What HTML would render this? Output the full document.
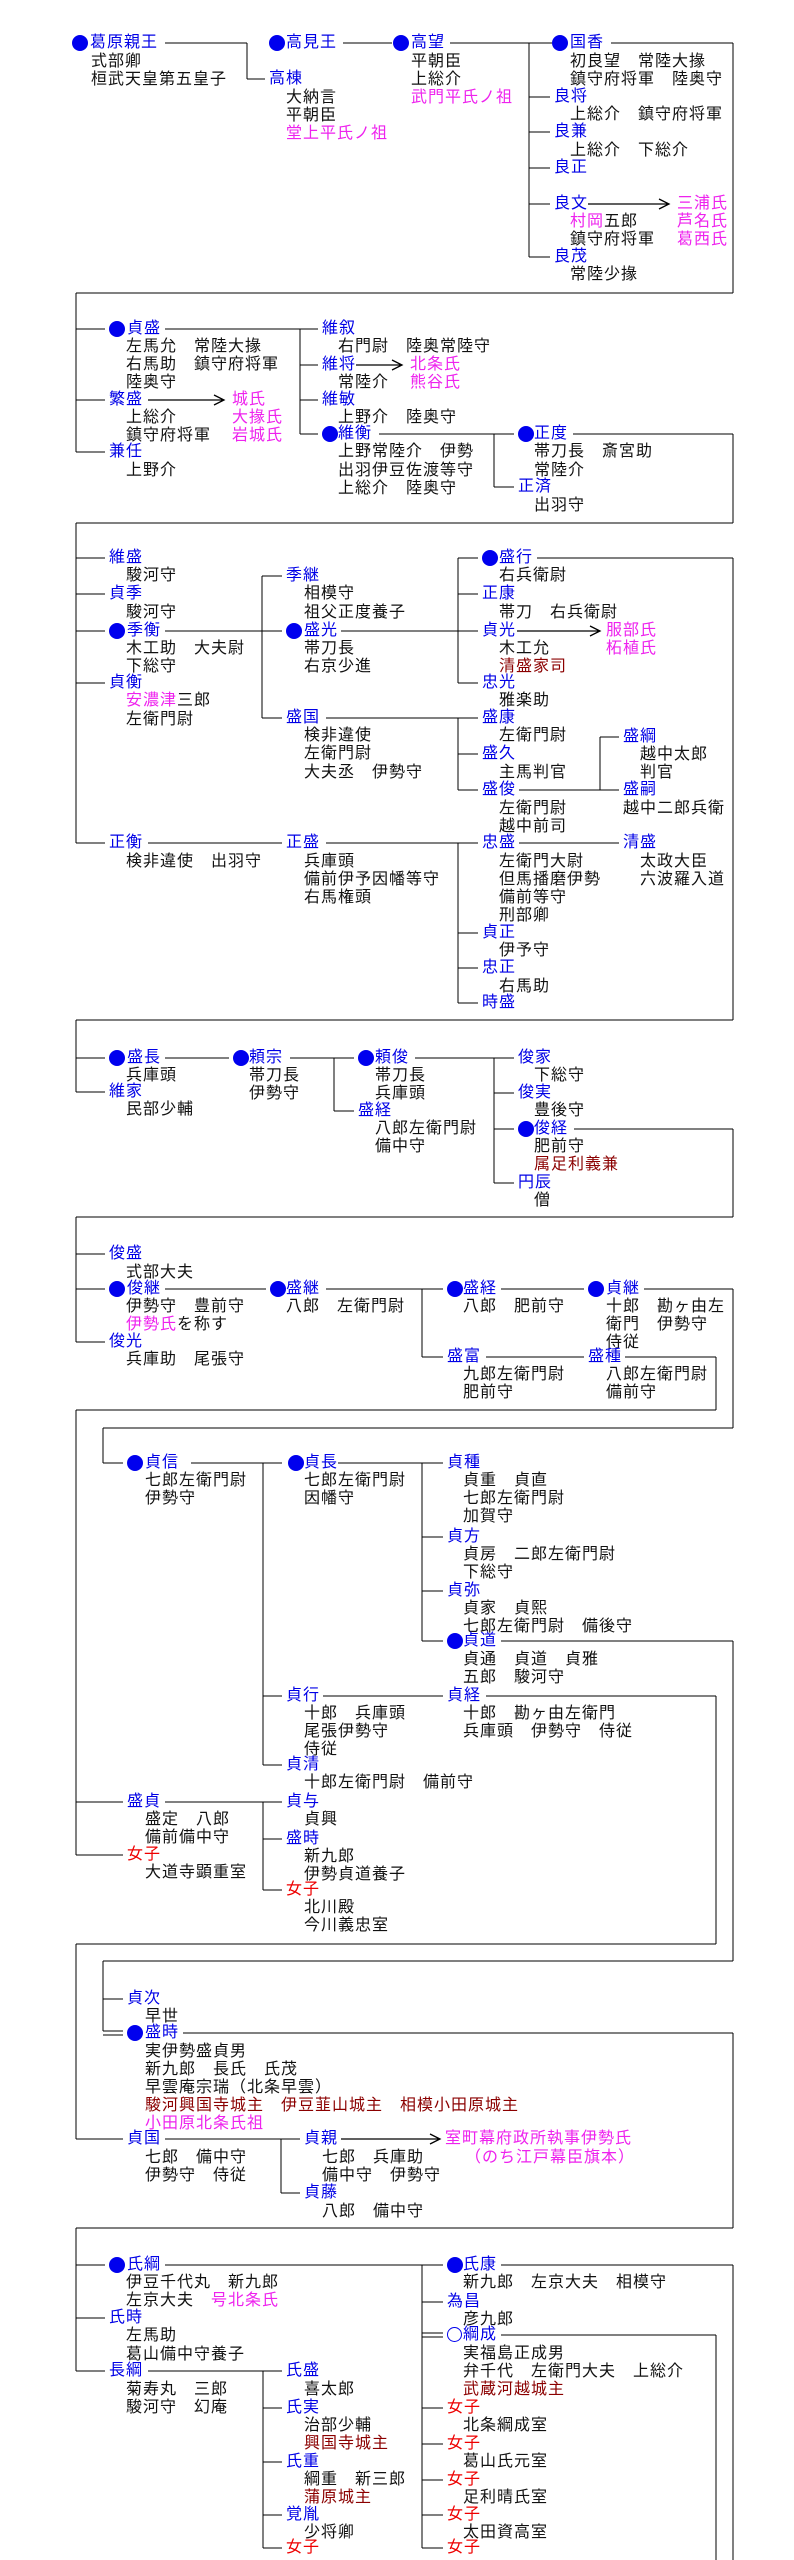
<!DOCTYPE html>
<html><head><meta charset="utf-8">
<style>
html,body{margin:0;padding:0;background:#fff;}
body{width:794px;height:2560px;position:relative;overflow:hidden;}
p{position:absolute;margin:0;font:16px/18px "Liberation Sans","Noto Sans CJK JP",sans-serif;letter-spacing:1px;white-space:nowrap;color:#111;}
.b{color:#0000e6}.m{color:#ee22ee}.r{color:#ee0000}.d{color:#8b0000}
i.dot{position:absolute;width:16px;height:16px;border-radius:50%;background:#0000ee;}
i.o{position:absolute;width:13px;height:13px;border-radius:50%;border:1.5px solid #0000ee;}
svg{position:absolute;left:0;top:0;}
</style></head><body>
<svg width="794" height="2560" shape-rendering="crispEdges" stroke="#000" stroke-width="1.3" fill="none">
<path d="M165 43H247M247 43V79M247 79H265
M343 43H392
M450 43H552M529 43V257M529 97H550M529 132H550M529 168H550M529 204H550M529 257H550
M611 43H733M733 43V293M76 293H733M76 293V452
M76 329H105M76 400H105M76 452H105
M165 329H318M300 329V434M300 365H318M300 400H318M300 434H318
M379 434H514M494 434V487M494 487H514
M573 434H733M733 434V523M76 523H733M76 523V843
M76 558H105M76 594H105M76 631H105M76 683H105M76 843H105
M165 631H262M262 576V718M262 576H282M262 631H282M262 718H282
M341 631H478M458 558V683M458 558H478M458 594H478M458 683H478
M537 558H733
M326 718H478M458 718V790M458 754H478M458 790H478
M519 790H619M600 737V790M600 737H619
M148 843H282M326 843H478M458 843V1003M458 933H478M458 968H478M458 1003H478
M519 843H619
M733 558V1020M76 1020H733M76 1020V1092M76 1058H105M76 1092H105
M165 1058H229M290 1058H354M334 1058V1111M334 1111H354
M415 1058H514M494 1058V1183M494 1093H514M494 1129H514M494 1183H514
M574 1129H733M733 1129V1217M76 1217H733M76 1217V1342M76 1254H105M76 1289H105M76 1342H105
M165 1289H266M326 1289H443M422 1289V1357M422 1357H443
M501 1289H584M644 1289H733M733 1289V1428M103 1428H733M103 1428V1463M103 1463H123
M486 1357H584M625 1357H716M716 1357V1410M76 1410H716M76 1410V1855M76 1802H123M76 1855H123
M191 1463H282M263 1463V1765M263 1696H282M263 1765H282
M338 1463H443M422 1463V1641M422 1537H443M422 1591H443M422 1641H443
M501 1641H733M733 1641V1961M103 1961H733M103 1961V2031M103 1999H123M103 2031H123M103 2035H123
M323 1696H443M486 1696H716M716 1696V1944M76 1944H716M76 1944V2139M76 2139H123
M165 1802H282M263 1802V1890M263 1839H282M263 1890H282
M183 2033H733M733 2033V2228M76 2228H733M76 2228V2371M76 2265H105M76 2318H105M76 2371H105
M165 2139H300M281 2139V2193M281 2193H300
M165 2265H443M422 2265V2548M422 2302H443M422 2333H443M422 2337H443M422 2408H443M422 2444H443M422 2480H443M422 2515H443M422 2548H443
M148 2371H282M263 2371V2548M263 2408H282M263 2462H282M263 2515H282M263 2548H282
M501 2265H733M733 2265V2560M501 2335H716M716 2335V2560"/>
<path shape-rendering="auto" d="M588 204H669M659 199L669 204L659 209
M148 400H224M214 395L224 400L214 405
M356 365H402M392 360L402 365L392 370
M517 631H600M590 626L600 631L590 636
M341 2139H440M430 2134L440 2139L430 2144"/>
</svg>

<!-- dots -->
<i class="dot" style="left:72px;top:35px"></i>
<i class="dot" style="left:269px;top:35px"></i>
<i class="dot" style="left:393px;top:35px"></i>
<i class="dot" style="left:552px;top:35px"></i>
<i class="dot" style="left:109px;top:321px"></i>
<i class="dot" style="left:322px;top:426px"></i>
<i class="dot" style="left:518px;top:426px"></i>
<i class="dot" style="left:109px;top:623px"></i>
<i class="dot" style="left:286px;top:623px"></i>
<i class="dot" style="left:482px;top:550px"></i>
<i class="dot" style="left:109px;top:1050px"></i>
<i class="dot" style="left:233px;top:1050px"></i>
<i class="dot" style="left:358px;top:1050px"></i>
<i class="dot" style="left:518px;top:1121px"></i>
<i class="dot" style="left:109px;top:1281px"></i>
<i class="dot" style="left:270px;top:1281px"></i>
<i class="dot" style="left:447px;top:1281px"></i>
<i class="dot" style="left:588px;top:1281px"></i>
<i class="dot" style="left:127px;top:1455px"></i>
<i class="dot" style="left:288px;top:1455px"></i>
<i class="dot" style="left:447px;top:1633px"></i>
<i class="dot" style="left:127px;top:2025px"></i>
<i class="dot" style="left:109px;top:2257px"></i>
<i class="dot" style="left:447px;top:2257px"></i>
<i class="o" style="left:447px;top:2327px"></i>

<!-- section 1 -->
<p class="b" style="left:90px;top:34px">葛原親王</p>
<p style="left:91px;top:53px">式部卿</p>
<p style="left:91px;top:71px">桓武天皇第五皇子</p>
<p class="b" style="left:286px;top:34px">高見王</p>
<p class="b" style="left:269px;top:70px">高棟</p>
<p style="left:286px;top:89px">大納言</p>
<p style="left:286px;top:107px">平朝臣</p>
<p class="m" style="left:286px;top:125px">堂上平氏ノ祖</p>
<p class="b" style="left:411px;top:34px">高望</p>
<p style="left:411px;top:53px">平朝臣</p>
<p style="left:411px;top:71px">上総介</p>
<p class="m" style="left:411px;top:89px">武門平氏ノ祖</p>
<p class="b" style="left:570px;top:34px">国香</p>
<p style="left:570px;top:53px">初良望　常陸大掾</p>
<p style="left:570px;top:71px">鎮守府将軍　陸奥守</p>
<p class="b" style="left:554px;top:88px">良将</p>
<p style="left:570px;top:106px">上総介　鎮守府将軍</p>
<p class="b" style="left:554px;top:123px">良兼</p>
<p style="left:570px;top:142px">上総介　下総介</p>
<p class="b" style="left:554px;top:159px">良正</p>
<p class="b" style="left:554px;top:195px">良文</p>
<p style="left:570px;top:213px"><span class="m">村岡</span>五郎</p>
<p style="left:570px;top:231px">鎮守府将軍</p>
<p class="m" style="left:677px;top:195px">三浦氏</p>
<p class="m" style="left:677px;top:213px">芦名氏</p>
<p class="m" style="left:677px;top:231px">葛西氏</p>
<p class="b" style="left:554px;top:248px">良茂</p>
<p style="left:570px;top:266px">常陸少掾</p>

<!-- section 2 -->
<p class="b" style="left:127px;top:320px">貞盛</p>
<p style="left:126px;top:338px">左馬允　常陸大掾</p>
<p style="left:126px;top:356px">右馬助　鎮守府将軍</p>
<p style="left:126px;top:374px">陸奥守</p>
<p class="b" style="left:109px;top:391px">繁盛</p>
<p style="left:126px;top:409px">上総介</p>
<p style="left:126px;top:427px">鎮守府将軍</p>
<p class="m" style="left:232px;top:391px">城氏</p>
<p class="m" style="left:232px;top:409px">大掾氏</p>
<p class="m" style="left:232px;top:427px">岩城氏</p>
<p class="b" style="left:109px;top:443px">兼任</p>
<p style="left:126px;top:462px">上野介</p>
<p class="b" style="left:322px;top:320px">維叙</p>
<p style="left:338px;top:338px">右門尉　陸奥常陸守</p>
<p class="b" style="left:322px;top:356px">維将</p>
<p style="left:338px;top:374px">常陸介</p>
<p class="m" style="left:410px;top:356px">北条氏</p>
<p class="m" style="left:410px;top:374px">熊谷氏</p>
<p class="b" style="left:322px;top:391px">維敏</p>
<p style="left:338px;top:409px">上野介　陸奥守</p>
<p class="b" style="left:338px;top:425px">維衡</p>
<p style="left:338px;top:443px">上野常陸介　伊勢</p>
<p style="left:338px;top:462px">出羽伊豆佐渡等守</p>
<p style="left:338px;top:480px">上総介　陸奥守</p>
<p class="b" style="left:534px;top:425px">正度</p>
<p style="left:534px;top:443px">帯刀長　斎宮助</p>
<p style="left:534px;top:462px">常陸介</p>
<p class="b" style="left:518px;top:478px">正済</p>
<p style="left:534px;top:497px">出羽守</p>

<!-- section 3 -->
<p class="b" style="left:109px;top:549px">維盛</p>
<p style="left:126px;top:567px">駿河守</p>
<p class="b" style="left:109px;top:585px">貞季</p>
<p style="left:126px;top:604px">駿河守</p>
<p class="b" style="left:127px;top:622px">季衡</p>
<p style="left:126px;top:640px">木工助　大夫尉</p>
<p style="left:126px;top:658px">下総守</p>
<p class="b" style="left:109px;top:674px">貞衡</p>
<p style="left:126px;top:692px"><span class="m">安濃津</span>三郎</p>
<p style="left:126px;top:711px">左衛門尉</p>
<p class="b" style="left:286px;top:567px">季継</p>
<p style="left:304px;top:585px">相模守</p>
<p style="left:304px;top:604px">祖父正度養子</p>
<p class="b" style="left:304px;top:622px">盛光</p>
<p style="left:304px;top:640px">帯刀長</p>
<p style="left:304px;top:658px">右京少進</p>
<p class="b" style="left:286px;top:709px">盛国</p>
<p style="left:304px;top:727px">検非違使</p>
<p style="left:304px;top:745px">左衛門尉</p>
<p style="left:304px;top:764px">大夫丞　伊勢守</p>
<p class="b" style="left:499px;top:549px">盛行</p>
<p style="left:499px;top:567px">右兵衛尉</p>
<p class="b" style="left:482px;top:585px">正康</p>
<p style="left:499px;top:604px">帯刀　右兵衛尉</p>
<p class="b" style="left:482px;top:622px">貞光</p>
<p style="left:499px;top:640px">木工允</p>
<p class="d" style="left:499px;top:658px">清盛家司</p>
<p class="m" style="left:606px;top:622px">服部氏</p>
<p class="m" style="left:606px;top:640px">柘植氏</p>
<p class="b" style="left:482px;top:674px">忠光</p>
<p style="left:499px;top:692px">雅楽助</p>
<p class="b" style="left:482px;top:709px">盛康</p>
<p style="left:499px;top:727px">左衛門尉</p>
<p class="b" style="left:482px;top:745px">盛久</p>
<p style="left:499px;top:764px">主馬判官</p>
<p class="b" style="left:482px;top:781px">盛俊</p>
<p style="left:499px;top:800px">左衛門尉</p>
<p style="left:499px;top:818px">越中前司</p>
<p class="b" style="left:623px;top:728px">盛綱</p>
<p style="left:640px;top:746px">越中太郎</p>
<p style="left:640px;top:764px">判官</p>
<p class="b" style="left:623px;top:781px">盛嗣</p>
<p style="left:623px;top:800px">越中二郎兵衛</p>
<p class="b" style="left:109px;top:834px">正衡</p>
<p style="left:126px;top:853px">検非違使　出羽守</p>
<p class="b" style="left:286px;top:834px">正盛</p>
<p style="left:304px;top:853px">兵庫頭</p>
<p style="left:304px;top:871px">備前伊予因幡等守</p>
<p style="left:304px;top:889px">右馬権頭</p>
<p class="b" style="left:482px;top:834px">忠盛</p>
<p style="left:499px;top:853px">左衛門大尉</p>
<p style="left:499px;top:871px">但馬播磨伊勢</p>
<p style="left:499px;top:889px">備前等守</p>
<p style="left:499px;top:907px">刑部卿</p>
<p class="b" style="left:623px;top:834px">清盛</p>
<p style="left:640px;top:853px">太政大臣</p>
<p style="left:640px;top:871px">六波羅入道</p>
<p class="b" style="left:482px;top:924px">貞正</p>
<p style="left:499px;top:942px">伊予守</p>
<p class="b" style="left:482px;top:959px">忠正</p>
<p style="left:499px;top:978px">右馬助</p>
<p class="b" style="left:482px;top:994px">時盛</p>

<!-- section 5 -->
<p class="b" style="left:127px;top:1049px">盛長</p>
<p style="left:126px;top:1067px">兵庫頭</p>
<p class="b" style="left:109px;top:1083px">維家</p>
<p style="left:126px;top:1101px">民部少輔</p>
<p class="b" style="left:249px;top:1049px">頼宗</p>
<p style="left:249px;top:1067px">帯刀長</p>
<p style="left:249px;top:1085px">伊勢守</p>
<p class="b" style="left:375px;top:1049px">頼俊</p>
<p style="left:375px;top:1067px">帯刀長</p>
<p style="left:375px;top:1085px">兵庫頭</p>
<p class="b" style="left:358px;top:1102px">盛経</p>
<p style="left:375px;top:1120px">八郎左衛門尉</p>
<p style="left:375px;top:1138px">備中守</p>
<p class="b" style="left:518px;top:1049px">俊家</p>
<p style="left:534px;top:1067px">下総守</p>
<p class="b" style="left:518px;top:1084px">俊実</p>
<p style="left:534px;top:1102px">豊後守</p>
<p class="b" style="left:534px;top:1120px">俊経</p>
<p style="left:534px;top:1138px">肥前守</p>
<p class="d" style="left:534px;top:1156px">属足利義兼</p>
<p class="b" style="left:518px;top:1174px">円辰</p>
<p style="left:534px;top:1192px">僧</p>

<!-- section 6 -->
<p class="b" style="left:109px;top:1245px">俊盛</p>
<p style="left:126px;top:1264px">式部大夫</p>
<p class="b" style="left:127px;top:1280px">俊継</p>
<p style="left:126px;top:1298px">伊勢守　豊前守</p>
<p style="left:126px;top:1316px"><span class="m">伊勢氏</span>を称す</p>
<p class="b" style="left:109px;top:1333px">俊光</p>
<p style="left:126px;top:1351px">兵庫助　尾張守</p>
<p class="b" style="left:286px;top:1280px">盛継</p>
<p style="left:286px;top:1298px">八郎　左衛門尉</p>
<p class="b" style="left:463px;top:1280px">盛経</p>
<p style="left:463px;top:1298px">八郎　肥前守</p>
<p class="b" style="left:606px;top:1280px">貞継</p>
<p style="left:606px;top:1298px">十郎　勘ヶ由左</p>
<p style="left:606px;top:1316px">衛門　伊勢守</p>
<p style="left:606px;top:1334px">侍従</p>
<p class="b" style="left:447px;top:1348px">盛富</p>
<p style="left:463px;top:1366px">九郎左衛門尉</p>
<p style="left:463px;top:1384px">肥前守</p>
<p class="b" style="left:588px;top:1348px">盛種</p>
<p style="left:606px;top:1366px">八郎左衛門尉</p>
<p style="left:606px;top:1384px">備前守</p>
<p class="b" style="left:145px;top:1454px">貞信</p>
<p style="left:145px;top:1472px">七郎左衛門尉</p>
<p style="left:145px;top:1490px">伊勢守</p>
<p class="b" style="left:304px;top:1454px">貞長</p>
<p style="left:304px;top:1472px">七郎左衛門尉</p>
<p style="left:304px;top:1490px">因幡守</p>
<p class="b" style="left:447px;top:1454px">貞種</p>
<p style="left:463px;top:1472px">貞重　貞直</p>
<p style="left:463px;top:1490px">七郎左衛門尉</p>
<p style="left:463px;top:1508px">加賀守</p>
<p class="b" style="left:447px;top:1528px">貞方</p>
<p style="left:463px;top:1546px">貞房　二郎左衛門尉</p>
<p style="left:463px;top:1564px">下総守</p>
<p class="b" style="left:447px;top:1582px">貞弥</p>
<p style="left:463px;top:1600px">貞家　貞熙</p>
<p style="left:463px;top:1618px">七郎左衛門尉　備後守</p>
<p class="b" style="left:463px;top:1632px">貞道</p>
<p style="left:463px;top:1651px">貞通　貞道　貞雅</p>
<p style="left:463px;top:1669px">五郎　駿河守</p>
<p class="b" style="left:286px;top:1687px">貞行</p>
<p style="left:304px;top:1705px">十郎　兵庫頭</p>
<p style="left:304px;top:1723px">尾張伊勢守</p>
<p style="left:304px;top:1741px">侍従</p>
<p class="b" style="left:447px;top:1687px">貞経</p>
<p style="left:463px;top:1705px">十郎　勘ヶ由左衛門</p>
<p style="left:463px;top:1723px">兵庫頭　伊勢守　侍従</p>
<p class="b" style="left:286px;top:1756px">貞清</p>
<p style="left:304px;top:1774px">十郎左衛門尉　備前守</p>
<p class="b" style="left:127px;top:1793px">盛貞</p>
<p style="left:145px;top:1811px">盛定　八郎</p>
<p style="left:145px;top:1829px">備前備中守</p>
<p class="r" style="left:127px;top:1846px">女子</p>
<p style="left:145px;top:1864px">大道寺顕重室</p>
<p class="b" style="left:286px;top:1793px">貞与</p>
<p style="left:304px;top:1811px">貞興</p>
<p class="b" style="left:286px;top:1830px">盛時</p>
<p style="left:304px;top:1848px">新九郎</p>
<p style="left:304px;top:1866px">伊勢貞道養子</p>
<p class="r" style="left:286px;top:1881px">女子</p>
<p style="left:304px;top:1899px">北川殿</p>
<p style="left:304px;top:1917px">今川義忠室</p>

<!-- section 9 -->
<p class="b" style="left:127px;top:1990px">貞次</p>
<p style="left:145px;top:2008px">早世</p>
<p class="b" style="left:145px;top:2024px">盛時</p>
<p style="left:145px;top:2043px">実伊勢盛貞男</p>
<p style="left:145px;top:2061px">新九郎　長氏　氏茂</p>
<p style="left:145px;top:2079px">早雲庵宗瑞（北条早雲）</p>
<p class="d" style="left:145px;top:2097px">駿河興国寺城主　伊豆韮山城主　相模小田原城主</p>
<p class="m" style="left:145px;top:2115px">小田原北条氏祖</p>
<p class="b" style="left:127px;top:2130px">貞国</p>
<p style="left:145px;top:2149px">七郎　備中守</p>
<p style="left:145px;top:2167px">伊勢守　侍従</p>
<p class="b" style="left:304px;top:2130px">貞親</p>
<p style="left:322px;top:2149px">七郎　兵庫助</p>
<p style="left:322px;top:2167px">備中守　伊勢守</p>
<p class="m" style="left:445px;top:2130px">室町幕府政所執事伊勢氏</p>
<p class="m" style="left:465px;top:2149px">（のち江戸幕臣旗本）</p>
<p class="b" style="left:304px;top:2184px">貞藤</p>
<p style="left:322px;top:2203px">八郎　備中守</p>

<!-- section 10 -->
<p class="b" style="left:127px;top:2256px">氏綱</p>
<p style="left:126px;top:2274px">伊豆千代丸　新九郎</p>
<p style="left:126px;top:2292px">左京大夫　<span class="m">号北条氏</span></p>
<p class="b" style="left:109px;top:2309px">氏時</p>
<p style="left:126px;top:2327px">左馬助</p>
<p style="left:126px;top:2346px">葛山備中守養子</p>
<p class="b" style="left:109px;top:2362px">長綱</p>
<p style="left:126px;top:2381px">菊寿丸　三郎</p>
<p style="left:126px;top:2399px">駿河守　幻庵</p>
<p class="b" style="left:286px;top:2362px">氏盛</p>
<p style="left:304px;top:2381px">喜太郎</p>
<p class="b" style="left:286px;top:2399px">氏実</p>
<p style="left:304px;top:2417px">治部少輔</p>
<p class="d" style="left:304px;top:2435px">興国寺城主</p>
<p class="b" style="left:286px;top:2453px">氏重</p>
<p style="left:304px;top:2471px">綱重　新三郎</p>
<p class="d" style="left:304px;top:2489px">蒲原城主</p>
<p class="b" style="left:286px;top:2506px">覚胤</p>
<p style="left:304px;top:2524px">少将卿</p>
<p class="r" style="left:286px;top:2539px">女子</p>
<p class="b" style="left:463px;top:2256px">氏康</p>
<p style="left:463px;top:2274px">新九郎　左京大夫　相模守</p>
<p class="b" style="left:447px;top:2293px">為昌</p>
<p style="left:463px;top:2311px">彦九郎</p>
<p class="b" style="left:463px;top:2326px">綱成</p>
<p style="left:463px;top:2345px">実福島正成男</p>
<p style="left:463px;top:2363px">弁千代　左衛門大夫　上総介</p>
<p class="d" style="left:463px;top:2381px">武蔵河越城主</p>
<p class="r" style="left:447px;top:2399px">女子</p>
<p style="left:463px;top:2417px">北条綱成室</p>
<p class="r" style="left:447px;top:2435px">女子</p>
<p style="left:463px;top:2453px">葛山氏元室</p>
<p class="r" style="left:447px;top:2471px">女子</p>
<p style="left:463px;top:2489px">足利晴氏室</p>
<p class="r" style="left:447px;top:2506px">女子</p>
<p style="left:463px;top:2524px">太田資高室</p>
<p class="r" style="left:447px;top:2539px">女子</p>
</body></html>
